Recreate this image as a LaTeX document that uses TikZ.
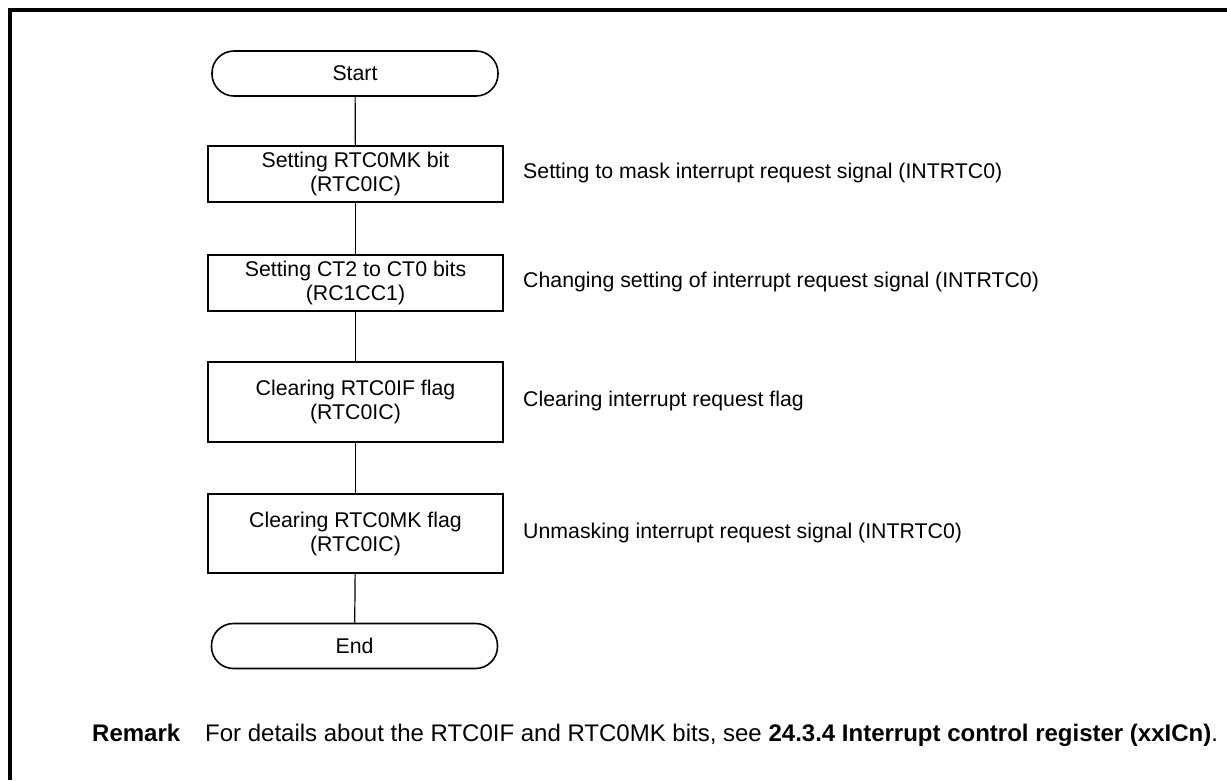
\documentclass[tikz,border=0pt]{standalone}
\usepackage{fontspec}
\setmainfont{Liberation Sans}
\begin{document}
\begin{tikzpicture}[x=1pt,y=-1pt,
  every node/.style={font=\fontsize{21.3}{24}\selectfont, inner sep=0pt},
  term/.style={draw, line width=1.6pt, rounded corners=22pt, minimum width=286pt, minimum height=45pt},
  procbox/.style={draw, line width=1.9pt, minimum width=295pt, align=center},
  note/.style={anchor=west, align=left},
  remarkfont/.style={font=\fontsize{24}{27}\selectfont},
  conn/.style={line width=1.2pt}]
\useasboundingbox (0,0) rectangle (1227,780);
\draw[line width=3.3pt] (1227,10) -- (10,10) -- (10,780);

\node[term] (start) at (355,73.5) {Start};
\node[procbox, minimum height=56pt] (b1) at (355.5,174) {Setting RTC0MK bit\\(RTC0IC)};
\node[procbox, minimum height=56pt] (b2) at (355.5,283) {Setting CT2 to CT0 bits\\(RC1CC1)};
\node[procbox, minimum height=80pt] (b3) at (355.5,402) {Clearing RTC0IF flag\\(RTC0IC)};
\node[procbox, minimum height=79pt] (b4) at (355.5,533.5) {Clearing RTC0MK flag\\(RTC0IC)};
\node[term] (end) at (354.5,646) {End};

\draw[conn] (start) -- (b1);
\draw[conn] (b1) -- (b2);
\draw[conn] (b2) -- (b3);
\draw[conn] (b3) -- (b4);
\draw[conn] (b4) -- (end);

\node[note] (n1) at (523,173) {Setting to mask interrupt request signal (INTRTC0)};
\node[note] (n2) at (523,282) {Changing setting of interrupt request signal (INTRTC0)};
\node[note] (n3) at (523,401) {Clearing interrupt request flag};
\node[note] (n4) at (523,532.5) {Unmasking interrupt request signal (INTRTC0)};

\node[remarkfont, anchor=base west] (rk) at (92,741) {\textbf{Remark}};
\node[remarkfont, anchor=base west] (rt) at (205,741) {For details about the RTC0IF and RTC0MK bits, see \textbf{24.3.4 Interrupt control register (xxICn)}.};
\end{tikzpicture}
\end{document}
